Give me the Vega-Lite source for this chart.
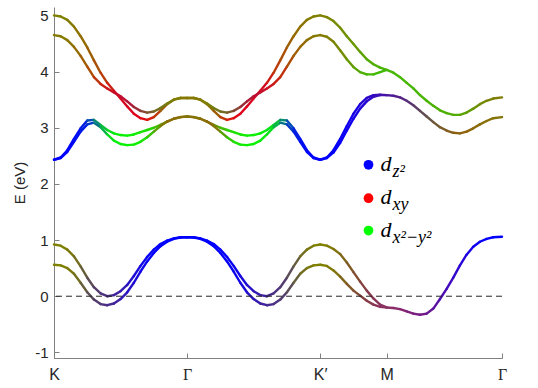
{
 "$schema": "https://vega.github.io/schema/vega-lite/v6.json",
 "width": 448,
 "height": 351,
 "autosize": {"type": "none"},
 "padding": {"left": 54, "top": 7, "right": 36, "bottom": 30},
 "background": "white",
 "config": {"view": {"stroke": null}, "font": "Liberation Sans"},
 "datasets": {
  "bands": [
{"b":"L1","k":0,"E":0.56,"r":0.5,"g":0.5,"u":0},
{"b":"L1","k":0.05,"E":0.55,"r":0.5,"g":0.5,"u":0},
{"b":"L1","k":0.1,"E":0.5,"r":0.48,"g":0.47,"u":0.05},
{"b":"L1","k":0.15,"E":0.4,"r":0.45,"g":0.43,"u":0.12},
{"b":"L1","k":0.2,"E":0.24,"r":0.4,"g":0.37,"u":0.23},
{"b":"L1","k":0.25,"E":0.07,"r":0.36,"g":0.3,"u":0.34},
{"b":"L1","k":0.3,"E":-0.06,"r":0.33,"g":0.24,"u":0.43},
{"b":"L1","k":0.35,"E":-0.14,"r":0.3,"g":0.2,"u":0.5},
{"b":"L1","k":0.4,"E":-0.16,"r":0.28,"g":0.17,"u":0.55},
{"b":"L1","k":0.45,"E":-0.13,"r":0.25,"g":0.13,"u":0.62},
{"b":"L1","k":0.5,"E":-0.05,"r":0.2,"g":0.1,"u":0.7},
{"b":"L1","k":0.55,"E":0.07,"r":0.15,"g":0.07,"u":0.78},
{"b":"L1","k":0.6,"E":0.24,"r":0.1,"g":0.04,"u":0.86},
{"b":"L1","k":0.65,"E":0.44,"r":0.06,"g":0.02,"u":0.92},
{"b":"L1","k":0.7,"E":0.62,"r":0.03,"g":0.01,"u":0.96},
{"b":"L1","k":0.75,"E":0.77,"r":0.02,"g":0,"u":0.98},
{"b":"L1","k":0.8,"E":0.89,"r":0.01,"g":0,"u":0.99},
{"b":"L1","k":0.85,"E":0.97,"r":0,"g":0,"u":1},
{"b":"L1","k":0.9,"E":1.02,"r":0,"g":0,"u":1},
{"b":"L1","k":0.95,"E":1.045,"r":0,"g":0,"u":1},
{"b":"L1","k":1,"E":1.05,"r":0,"g":0,"u":1},
{"b":"L1","k":1.05,"E":1.045,"r":0,"g":0,"u":1},
{"b":"L1","k":1.1,"E":1.02,"r":0,"g":0,"u":1},
{"b":"L1","k":1.15,"E":0.97,"r":0,"g":0,"u":1},
{"b":"L1","k":1.2,"E":0.89,"r":0.01,"g":0,"u":0.99},
{"b":"L1","k":1.25,"E":0.77,"r":0.02,"g":0,"u":0.98},
{"b":"L1","k":1.3,"E":0.62,"r":0.03,"g":0.01,"u":0.96},
{"b":"L1","k":1.35,"E":0.44,"r":0.06,"g":0.02,"u":0.92},
{"b":"L1","k":1.4,"E":0.24,"r":0.1,"g":0.04,"u":0.86},
{"b":"L1","k":1.45,"E":0.07,"r":0.15,"g":0.07,"u":0.78},
{"b":"L1","k":1.5,"E":-0.05,"r":0.2,"g":0.1,"u":0.7},
{"b":"L1","k":1.55,"E":-0.13,"r":0.25,"g":0.13,"u":0.62},
{"b":"L1","k":1.6,"E":-0.16,"r":0.28,"g":0.17,"u":0.55},
{"b":"L1","k":1.65,"E":-0.14,"r":0.3,"g":0.2,"u":0.5},
{"b":"L1","k":1.7,"E":-0.06,"r":0.33,"g":0.24,"u":0.43},
{"b":"L1","k":1.75,"E":0.07,"r":0.36,"g":0.3,"u":0.34},
{"b":"L1","k":1.8,"E":0.24,"r":0.4,"g":0.37,"u":0.23},
{"b":"L1","k":1.85,"E":0.4,"r":0.45,"g":0.43,"u":0.12},
{"b":"L1","k":1.9,"E":0.5,"r":0.48,"g":0.47,"u":0.05},
{"b":"L1","k":1.95,"E":0.55,"r":0.5,"g":0.5,"u":0},
{"b":"L1","k":2,"E":0.56,"r":0.5,"g":0.5,"u":0},
{"b":"L1","k":2.05,"E":0.54,"r":0.5,"g":0.48,"u":0.02},
{"b":"L1","k":2.1,"E":0.46,"r":0.5,"g":0.45,"u":0.05},
{"b":"L1","k":2.15,"E":0.35,"r":0.5,"g":0.4,"u":0.1},
{"b":"L1","k":2.2,"E":0.22,"r":0.5,"g":0.35,"u":0.15},
{"b":"L1","k":2.25,"E":0.1,"r":0.5,"g":0.3,"u":0.2},
{"b":"L1","k":2.3,"E":0.01,"r":0.52,"g":0.25,"u":0.25},
{"b":"L1","k":2.35,"E":-0.08,"r":0.53,"g":0.23,"u":0.3},
{"b":"L1","k":2.4,"E":-0.15,"r":0.54,"g":0.21,"u":0.35},
{"b":"L1","k":2.45,"E":-0.19,"r":0.55,"g":0.2,"u":0.38},
{"b":"L1","k":2.5,"E":-0.2,"r":0.55,"g":0.19,"u":0.4},
{"b":"L1","k":2.55,"E":-0.21,"r":0.54,"g":0.17,"u":0.42},
{"b":"L1","k":2.6,"E":-0.23,"r":0.52,"g":0.15,"u":0.45},
{"b":"L1","k":2.65,"E":-0.27,"r":0.5,"g":0.13,"u":0.48},
{"b":"L1","k":2.7,"E":-0.31,"r":0.48,"g":0.12,"u":0.5},
{"b":"L1","k":2.75,"E":-0.33,"r":0.45,"g":0.1,"u":0.53},
{"b":"L1","k":2.8,"E":-0.31,"r":0.4,"g":0.09,"u":0.58},
{"b":"L1","k":2.85,"E":-0.22,"r":0.35,"g":0.07,"u":0.64},
{"b":"L1","k":2.9,"E":-0.05,"r":0.3,"g":0.05,"u":0.7},
{"b":"L1","k":2.95,"E":0.13,"r":0.25,"g":0.04,"u":0.75},
{"b":"L1","k":3,"E":0.33,"r":0.2,"g":0.03,"u":0.8},
{"b":"L1","k":3.05,"E":0.55,"r":0.15,"g":0.02,"u":0.85},
{"b":"L1","k":3.1,"E":0.74,"r":0.1,"g":0.01,"u":0.9},
{"b":"L1","k":3.15,"E":0.88,"r":0.06,"g":0,"u":0.94},
{"b":"L1","k":3.2,"E":0.97,"r":0.03,"g":0,"u":0.97},
{"b":"L1","k":3.25,"E":1.02,"r":0.01,"g":0,"u":0.99},
{"b":"L1","k":3.3,"E":1.05,"r":0,"g":0,"u":1},
{"b":"L1","k":3.366,"E":1.06,"r":0,"g":0,"u":1},

{"b":"L2","k":0,"E":0.92,"r":0.5,"g":0.5,"u":0},
{"b":"L2","k":0.05,"E":0.9,"r":0.5,"g":0.5,"u":0},
{"b":"L2","k":0.1,"E":0.83,"r":0.48,"g":0.47,"u":0.05},
{"b":"L2","k":0.15,"E":0.71,"r":0.45,"g":0.43,"u":0.12},
{"b":"L2","k":0.2,"E":0.53,"r":0.4,"g":0.37,"u":0.23},
{"b":"L2","k":0.25,"E":0.33,"r":0.36,"g":0.3,"u":0.34},
{"b":"L2","k":0.3,"E":0.16,"r":0.33,"g":0.24,"u":0.43},
{"b":"L2","k":0.35,"E":0.05,"r":0.3,"g":0.2,"u":0.5},
{"b":"L2","k":0.4,"E":0,"r":0.28,"g":0.17,"u":0.55},
{"b":"L2","k":0.45,"E":0.02,"r":0.25,"g":0.13,"u":0.62},
{"b":"L2","k":0.5,"E":0.09,"r":0.2,"g":0.1,"u":0.7},
{"b":"L2","k":0.55,"E":0.2,"r":0.15,"g":0.07,"u":0.78},
{"b":"L2","k":0.6,"E":0.36,"r":0.1,"g":0.04,"u":0.86},
{"b":"L2","k":0.65,"E":0.54,"r":0.06,"g":0.02,"u":0.92},
{"b":"L2","k":0.7,"E":0.7,"r":0.03,"g":0.01,"u":0.96},
{"b":"L2","k":0.75,"E":0.83,"r":0.02,"g":0,"u":0.98},
{"b":"L2","k":0.8,"E":0.93,"r":0.01,"g":0,"u":0.99},
{"b":"L2","k":0.85,"E":0.99,"r":0,"g":0,"u":1},
{"b":"L2","k":0.9,"E":1.03,"r":0,"g":0,"u":1},
{"b":"L2","k":0.95,"E":1.05,"r":0,"g":0,"u":1},
{"b":"L2","k":1,"E":1.05,"r":0,"g":0,"u":1},
{"b":"L2","k":1.05,"E":1.05,"r":0,"g":0,"u":1},
{"b":"L2","k":1.1,"E":1.03,"r":0,"g":0,"u":1},
{"b":"L2","k":1.15,"E":0.99,"r":0,"g":0,"u":1},
{"b":"L2","k":1.2,"E":0.93,"r":0.01,"g":0,"u":0.99},
{"b":"L2","k":1.25,"E":0.83,"r":0.02,"g":0,"u":0.98},
{"b":"L2","k":1.3,"E":0.7,"r":0.03,"g":0.01,"u":0.96},
{"b":"L2","k":1.35,"E":0.54,"r":0.06,"g":0.02,"u":0.92},
{"b":"L2","k":1.4,"E":0.36,"r":0.1,"g":0.04,"u":0.86},
{"b":"L2","k":1.45,"E":0.2,"r":0.15,"g":0.07,"u":0.78},
{"b":"L2","k":1.5,"E":0.09,"r":0.2,"g":0.1,"u":0.7},
{"b":"L2","k":1.55,"E":0.02,"r":0.25,"g":0.13,"u":0.62},
{"b":"L2","k":1.6,"E":0,"r":0.28,"g":0.17,"u":0.55},
{"b":"L2","k":1.65,"E":0.05,"r":0.3,"g":0.2,"u":0.5},
{"b":"L2","k":1.7,"E":0.16,"r":0.33,"g":0.24,"u":0.43},
{"b":"L2","k":1.75,"E":0.33,"r":0.36,"g":0.3,"u":0.34},
{"b":"L2","k":1.8,"E":0.53,"r":0.4,"g":0.37,"u":0.23},
{"b":"L2","k":1.85,"E":0.71,"r":0.45,"g":0.43,"u":0.12},
{"b":"L2","k":1.9,"E":0.83,"r":0.48,"g":0.47,"u":0.05},
{"b":"L2","k":1.95,"E":0.9,"r":0.5,"g":0.5,"u":0},
{"b":"L2","k":2,"E":0.92,"r":0.5,"g":0.5,"u":0},
{"b":"L2","k":2.05,"E":0.9,"r":0.5,"g":0.48,"u":0.02},
{"b":"L2","k":2.1,"E":0.84,"r":0.5,"g":0.45,"u":0.05},
{"b":"L2","k":2.15,"E":0.75,"r":0.5,"g":0.4,"u":0.1},
{"b":"L2","k":2.2,"E":0.6,"r":0.5,"g":0.35,"u":0.15},
{"b":"L2","k":2.25,"E":0.43,"r":0.5,"g":0.3,"u":0.2},
{"b":"L2","k":2.3,"E":0.26,"r":0.52,"g":0.25,"u":0.25},
{"b":"L2","k":2.35,"E":0.1,"r":0.53,"g":0.23,"u":0.3},
{"b":"L2","k":2.4,"E":-0.04,"r":0.54,"g":0.21,"u":0.35},
{"b":"L2","k":2.45,"E":-0.15,"r":0.55,"g":0.2,"u":0.38},
{"b":"L2","k":2.5,"E":-0.2,"r":0.55,"g":0.19,"u":0.4},

{"b":"M2","k":0,"E":2.43,"r":0,"g":0,"u":1},
{"b":"M2","k":0.05,"E":2.47,"r":0,"g":0,"u":1},
{"b":"M2","k":0.1,"E":2.6,"r":0,"g":0.02,"u":0.98},
{"b":"M2","k":0.15,"E":2.8,"r":0,"g":0.05,"u":0.95},
{"b":"M2","k":0.2,"E":2.99,"r":0,"g":0.12,"u":0.88},
{"b":"M2","k":0.25,"E":3.13,"r":0,"g":0.3,"u":0.7},
{"b":"M2","k":0.3,"E":3.14,"r":0.02,"g":0.55,"u":0.43},
{"b":"M2","k":0.35,"E":3.05,"r":0.03,"g":0.75,"u":0.22},
{"b":"M2","k":0.4,"E":2.96,"r":0.03,"g":0.88,"u":0.09},
{"b":"M2","k":0.45,"E":2.9,"r":0.03,"g":0.93,"u":0.04},
{"b":"M2","k":0.5,"E":2.87,"r":0.04,"g":0.94,"u":0.02},
{"b":"M2","k":0.55,"E":2.86,"r":0.05,"g":0.94,"u":0.01},
{"b":"M2","k":0.6,"E":2.88,"r":0.07,"g":0.92,"u":0.01},
{"b":"M2","k":0.65,"E":2.92,"r":0.1,"g":0.89,"u":0.01},
{"b":"M2","k":0.7,"E":2.96,"r":0.15,"g":0.84,"u":0.01},
{"b":"M2","k":0.75,"E":3.0,"r":0.25,"g":0.74,"u":0.01},
{"b":"M2","k":0.8,"E":3.05,"r":0.4,"g":0.58,"u":0.02},
{"b":"M2","k":0.85,"E":3.11,"r":0.5,"g":0.47,"u":0.03},
{"b":"M2","k":0.9,"E":3.16,"r":0.52,"g":0.45,"u":0.03},
{"b":"M2","k":0.95,"E":3.19,"r":0.52,"g":0.45,"u":0.03},
{"b":"M2","k":1,"E":3.2,"r":0.52,"g":0.45,"u":0.03},
{"b":"M2","k":1.05,"E":3.19,"r":0.52,"g":0.45,"u":0.03},
{"b":"M2","k":1.1,"E":3.16,"r":0.52,"g":0.45,"u":0.03},
{"b":"M2","k":1.15,"E":3.11,"r":0.5,"g":0.47,"u":0.03},
{"b":"M2","k":1.2,"E":3.05,"r":0.4,"g":0.58,"u":0.02},
{"b":"M2","k":1.25,"E":3.0,"r":0.25,"g":0.74,"u":0.01},
{"b":"M2","k":1.3,"E":2.96,"r":0.15,"g":0.84,"u":0.01},
{"b":"M2","k":1.35,"E":2.92,"r":0.1,"g":0.89,"u":0.01},
{"b":"M2","k":1.4,"E":2.88,"r":0.07,"g":0.92,"u":0.01},
{"b":"M2","k":1.45,"E":2.86,"r":0.05,"g":0.94,"u":0.01},
{"b":"M2","k":1.5,"E":2.87,"r":0.04,"g":0.94,"u":0.02},
{"b":"M2","k":1.55,"E":2.9,"r":0.03,"g":0.93,"u":0.04},
{"b":"M2","k":1.6,"E":2.96,"r":0.03,"g":0.88,"u":0.09},
{"b":"M2","k":1.65,"E":3.05,"r":0.03,"g":0.75,"u":0.22},
{"b":"M2","k":1.7,"E":3.14,"r":0.02,"g":0.55,"u":0.43},
{"b":"M2","k":1.75,"E":3.13,"r":0,"g":0.3,"u":0.7},
{"b":"M2","k":1.8,"E":2.99,"r":0,"g":0.12,"u":0.88},
{"b":"M2","k":1.85,"E":2.8,"r":0,"g":0.05,"u":0.95},
{"b":"M2","k":1.9,"E":2.6,"r":0,"g":0.02,"u":0.98},
{"b":"M2","k":1.95,"E":2.47,"r":0,"g":0,"u":1},
{"b":"M2","k":2,"E":2.43,"r":0,"g":0,"u":1},
{"b":"M2","k":2.05,"E":2.47,"r":0,"g":0,"u":1},
{"b":"M2","k":2.1,"E":2.6,"r":0.02,"g":0,"u":0.98},
{"b":"M2","k":2.15,"E":2.8,"r":0.04,"g":0,"u":0.96},
{"b":"M2","k":2.2,"E":3.03,"r":0.07,"g":0,"u":0.93},
{"b":"M2","k":2.25,"E":3.25,"r":0.1,"g":0.01,"u":0.89},
{"b":"M2","k":2.3,"E":3.42,"r":0.14,"g":0.02,"u":0.84},
{"b":"M2","k":2.35,"E":3.53,"r":0.18,"g":0.03,"u":0.79},
{"b":"M2","k":2.4,"E":3.58,"r":0.22,"g":0.05,"u":0.73},
{"b":"M2","k":2.45,"E":3.59,"r":0.26,"g":0.07,"u":0.67},
{"b":"M2","k":2.5,"E":3.58,"r":0.3,"g":0.09,"u":0.61},

{"b":"M1","k":0,"E":2.43,"r":0,"g":0,"u":1},
{"b":"M1","k":0.05,"E":2.46,"r":0,"g":0,"u":1},
{"b":"M1","k":0.1,"E":2.57,"r":0,"g":0.02,"u":0.98},
{"b":"M1","k":0.15,"E":2.75,"r":0,"g":0.05,"u":0.95},
{"b":"M1","k":0.2,"E":2.93,"r":0,"g":0.1,"u":0.9},
{"b":"M1","k":0.25,"E":3.06,"r":0,"g":0.22,"u":0.78},
{"b":"M1","k":0.3,"E":3.09,"r":0.01,"g":0.45,"u":0.54},
{"b":"M1","k":0.35,"E":3.01,"r":0.02,"g":0.7,"u":0.28},
{"b":"M1","k":0.4,"E":2.88,"r":0.03,"g":0.87,"u":0.1},
{"b":"M1","k":0.45,"E":2.77,"r":0.03,"g":0.93,"u":0.04},
{"b":"M1","k":0.5,"E":2.71,"r":0.04,"g":0.94,"u":0.02},
{"b":"M1","k":0.55,"E":2.69,"r":0.05,"g":0.94,"u":0.01},
{"b":"M1","k":0.6,"E":2.7,"r":0.06,"g":0.93,"u":0.01},
{"b":"M1","k":0.65,"E":2.75,"r":0.1,"g":0.89,"u":0.01},
{"b":"M1","k":0.7,"E":2.83,"r":0.2,"g":0.78,"u":0.02},
{"b":"M1","k":0.75,"E":2.93,"r":0.35,"g":0.63,"u":0.02},
{"b":"M1","k":0.8,"E":3.03,"r":0.5,"g":0.48,"u":0.02},
{"b":"M1","k":0.85,"E":3.11,"r":0.55,"g":0.42,"u":0.03},
{"b":"M1","k":0.9,"E":3.16,"r":0.54,"g":0.43,"u":0.03},
{"b":"M1","k":0.95,"E":3.19,"r":0.52,"g":0.45,"u":0.03},
{"b":"M1","k":1,"E":3.2,"r":0.52,"g":0.45,"u":0.03},
{"b":"M1","k":1.05,"E":3.19,"r":0.52,"g":0.45,"u":0.03},
{"b":"M1","k":1.1,"E":3.16,"r":0.54,"g":0.43,"u":0.03},
{"b":"M1","k":1.15,"E":3.11,"r":0.55,"g":0.42,"u":0.03},
{"b":"M1","k":1.2,"E":3.03,"r":0.5,"g":0.48,"u":0.02},
{"b":"M1","k":1.25,"E":2.93,"r":0.35,"g":0.63,"u":0.02},
{"b":"M1","k":1.3,"E":2.83,"r":0.2,"g":0.78,"u":0.02},
{"b":"M1","k":1.35,"E":2.75,"r":0.1,"g":0.89,"u":0.01},
{"b":"M1","k":1.4,"E":2.7,"r":0.06,"g":0.93,"u":0.01},
{"b":"M1","k":1.45,"E":2.69,"r":0.05,"g":0.94,"u":0.01},
{"b":"M1","k":1.5,"E":2.71,"r":0.04,"g":0.94,"u":0.02},
{"b":"M1","k":1.55,"E":2.77,"r":0.03,"g":0.93,"u":0.04},
{"b":"M1","k":1.6,"E":2.88,"r":0.03,"g":0.87,"u":0.1},
{"b":"M1","k":1.65,"E":3.01,"r":0.02,"g":0.7,"u":0.28},
{"b":"M1","k":1.7,"E":3.09,"r":0.01,"g":0.45,"u":0.54},
{"b":"M1","k":1.75,"E":3.06,"r":0,"g":0.22,"u":0.78},
{"b":"M1","k":1.8,"E":2.93,"r":0,"g":0.1,"u":0.9},
{"b":"M1","k":1.85,"E":2.75,"r":0,"g":0.05,"u":0.95},
{"b":"M1","k":1.9,"E":2.57,"r":0,"g":0.02,"u":0.98},
{"b":"M1","k":1.95,"E":2.46,"r":0,"g":0,"u":1},
{"b":"M1","k":2,"E":2.43,"r":0,"g":0,"u":1},
{"b":"M1","k":2.05,"E":2.46,"r":0,"g":0,"u":1},
{"b":"M1","k":2.1,"E":2.56,"r":0.02,"g":0,"u":0.98},
{"b":"M1","k":2.15,"E":2.73,"r":0.04,"g":0,"u":0.96},
{"b":"M1","k":2.2,"E":2.95,"r":0.07,"g":0,"u":0.93},
{"b":"M1","k":2.25,"E":3.16,"r":0.1,"g":0.01,"u":0.89},
{"b":"M1","k":2.3,"E":3.34,"r":0.14,"g":0.02,"u":0.84},
{"b":"M1","k":2.35,"E":3.47,"r":0.18,"g":0.03,"u":0.79},
{"b":"M1","k":2.4,"E":3.55,"r":0.22,"g":0.05,"u":0.73},
{"b":"M1","k":2.45,"E":3.58,"r":0.26,"g":0.07,"u":0.67},
{"b":"M1","k":2.5,"E":3.58,"r":0.3,"g":0.09,"u":0.61},
{"b":"M1","k":2.55,"E":3.57,"r":0.32,"g":0.12,"u":0.56},
{"b":"M1","k":2.6,"E":3.54,"r":0.34,"g":0.15,"u":0.51},
{"b":"M1","k":2.65,"E":3.48,"r":0.35,"g":0.19,"u":0.46},
{"b":"M1","k":2.7,"E":3.4,"r":0.36,"g":0.24,"u":0.4},
{"b":"M1","k":2.75,"E":3.3,"r":0.38,"g":0.29,"u":0.33},
{"b":"M1","k":2.8,"E":3.2,"r":0.4,"g":0.33,"u":0.27},
{"b":"M1","k":2.85,"E":3.1,"r":0.44,"g":0.35,"u":0.21},
{"b":"M1","k":2.9,"E":3.01,"r":0.48,"g":0.36,"u":0.16},
{"b":"M1","k":2.95,"E":2.95,"r":0.52,"g":0.37,"u":0.11},
{"b":"M1","k":3,"E":2.91,"r":0.55,"g":0.38,"u":0.07},
{"b":"M1","k":3.05,"E":2.9,"r":0.56,"g":0.39,"u":0.05},
{"b":"M1","k":3.1,"E":2.93,"r":0.56,"g":0.4,"u":0.04},
{"b":"M1","k":3.15,"E":2.99,"r":0.55,"g":0.42,"u":0.03},
{"b":"M1","k":3.2,"E":3.06,"r":0.54,"g":0.43,"u":0.03},
{"b":"M1","k":3.25,"E":3.12,"r":0.53,"g":0.44,"u":0.03},
{"b":"M1","k":3.3,"E":3.17,"r":0.52,"g":0.45,"u":0.03},
{"b":"M1","k":3.366,"E":3.19,"r":0.52,"g":0.45,"u":0.03},

{"b":"T1","k":0,"E":5.0,"r":0.5,"g":0.5,"u":0},
{"b":"T1","k":0.05,"E":4.98,"r":0.5,"g":0.5,"u":0},
{"b":"T1","k":0.1,"E":4.92,"r":0.52,"g":0.48,"u":0},
{"b":"T1","k":0.15,"E":4.8,"r":0.55,"g":0.45,"u":0},
{"b":"T1","k":0.2,"E":4.63,"r":0.58,"g":0.42,"u":0},
{"b":"T1","k":0.25,"E":4.43,"r":0.62,"g":0.37,"u":0.01},
{"b":"T1","k":0.3,"E":4.2,"r":0.67,"g":0.31,"u":0.02},
{"b":"T1","k":0.35,"E":3.98,"r":0.73,"g":0.23,"u":0.04},
{"b":"T1","k":0.4,"E":3.8,"r":0.8,"g":0.12,"u":0.08},
{"b":"T1","k":0.45,"E":3.66,"r":0.82,"g":0.05,"u":0.13},
{"b":"T1","k":0.5,"E":3.52,"r":0.84,"g":0.03,"u":0.13},
{"b":"T1","k":0.55,"E":3.38,"r":0.86,"g":0.02,"u":0.12},
{"b":"T1","k":0.6,"E":3.25,"r":0.88,"g":0.02,"u":0.1},
{"b":"T1","k":0.65,"E":3.17,"r":0.88,"g":0.04,"u":0.08},
{"b":"T1","k":0.7,"E":3.14,"r":0.85,"g":0.1,"u":0.05},
{"b":"T1","k":0.75,"E":3.19,"r":0.75,"g":0.22,"u":0.03},
{"b":"T1","k":0.8,"E":3.3,"r":0.62,"g":0.36,"u":0.02},
{"b":"T1","k":0.85,"E":3.42,"r":0.55,"g":0.44,"u":0.01},
{"b":"T1","k":0.9,"E":3.5,"r":0.52,"g":0.47,"u":0.01},
{"b":"T1","k":0.95,"E":3.53,"r":0.52,"g":0.47,"u":0.01},
{"b":"T1","k":1,"E":3.53,"r":0.52,"g":0.47,"u":0.01},
{"b":"T1","k":1.05,"E":3.53,"r":0.52,"g":0.47,"u":0.01},
{"b":"T1","k":1.1,"E":3.5,"r":0.52,"g":0.47,"u":0.01},
{"b":"T1","k":1.15,"E":3.42,"r":0.55,"g":0.44,"u":0.01},
{"b":"T1","k":1.2,"E":3.3,"r":0.62,"g":0.36,"u":0.02},
{"b":"T1","k":1.25,"E":3.19,"r":0.75,"g":0.22,"u":0.03},
{"b":"T1","k":1.3,"E":3.14,"r":0.85,"g":0.1,"u":0.05},
{"b":"T1","k":1.35,"E":3.17,"r":0.88,"g":0.04,"u":0.08},
{"b":"T1","k":1.4,"E":3.25,"r":0.88,"g":0.02,"u":0.1},
{"b":"T1","k":1.45,"E":3.38,"r":0.86,"g":0.02,"u":0.12},
{"b":"T1","k":1.5,"E":3.52,"r":0.84,"g":0.03,"u":0.13},
{"b":"T1","k":1.55,"E":3.66,"r":0.82,"g":0.05,"u":0.13},
{"b":"T1","k":1.6,"E":3.8,"r":0.8,"g":0.12,"u":0.08},
{"b":"T1","k":1.65,"E":3.98,"r":0.73,"g":0.23,"u":0.04},
{"b":"T1","k":1.7,"E":4.2,"r":0.67,"g":0.31,"u":0.02},
{"b":"T1","k":1.75,"E":4.43,"r":0.62,"g":0.37,"u":0.01},
{"b":"T1","k":1.8,"E":4.63,"r":0.58,"g":0.42,"u":0},
{"b":"T1","k":1.85,"E":4.8,"r":0.55,"g":0.45,"u":0},
{"b":"T1","k":1.9,"E":4.92,"r":0.52,"g":0.48,"u":0},
{"b":"T1","k":1.95,"E":4.98,"r":0.5,"g":0.5,"u":0},
{"b":"T1","k":2,"E":5.0,"r":0.5,"g":0.5,"u":0},
{"b":"T1","k":2.05,"E":4.97,"r":0.48,"g":0.52,"u":0},
{"b":"T1","k":2.1,"E":4.9,"r":0.46,"g":0.54,"u":0},
{"b":"T1","k":2.15,"E":4.78,"r":0.44,"g":0.56,"u":0},
{"b":"T1","k":2.2,"E":4.63,"r":0.42,"g":0.58,"u":0},
{"b":"T1","k":2.25,"E":4.49,"r":0.4,"g":0.6,"u":0},
{"b":"T1","k":2.3,"E":4.35,"r":0.36,"g":0.63,"u":0.01},
{"b":"T1","k":2.35,"E":4.22,"r":0.32,"g":0.67,"u":0.01},
{"b":"T1","k":2.4,"E":4.13,"r":0.3,"g":0.69,"u":0.01},
{"b":"T1","k":2.45,"E":4.07,"r":0.28,"g":0.71,"u":0.01},
{"b":"T1","k":2.5,"E":4.03,"r":0.27,"g":0.72,"u":0.01},
{"b":"T1","k":2.55,"E":3.98,"r":0.27,"g":0.72,"u":0.01},
{"b":"T1","k":2.6,"E":3.9,"r":0.27,"g":0.72,"u":0.01},
{"b":"T1","k":2.65,"E":3.8,"r":0.28,"g":0.71,"u":0.01},
{"b":"T1","k":2.7,"E":3.7,"r":0.28,"g":0.71,"u":0.01},
{"b":"T1","k":2.75,"E":3.58,"r":0.29,"g":0.7,"u":0.01},
{"b":"T1","k":2.8,"E":3.48,"r":0.29,"g":0.7,"u":0.01},
{"b":"T1","k":2.85,"E":3.39,"r":0.3,"g":0.69,"u":0.01},
{"b":"T1","k":2.9,"E":3.31,"r":0.3,"g":0.69,"u":0.01},
{"b":"T1","k":2.95,"E":3.26,"r":0.31,"g":0.68,"u":0.01},
{"b":"T1","k":3,"E":3.23,"r":0.32,"g":0.67,"u":0.01},
{"b":"T1","k":3.05,"E":3.23,"r":0.35,"g":0.64,"u":0.01},
{"b":"T1","k":3.1,"E":3.27,"r":0.38,"g":0.61,"u":0.01},
{"b":"T1","k":3.15,"E":3.34,"r":0.42,"g":0.57,"u":0.01},
{"b":"T1","k":3.2,"E":3.42,"r":0.45,"g":0.54,"u":0.01},
{"b":"T1","k":3.25,"E":3.48,"r":0.48,"g":0.51,"u":0.01},
{"b":"T1","k":3.3,"E":3.52,"r":0.5,"g":0.49,"u":0.01},
{"b":"T1","k":3.366,"E":3.54,"r":0.52,"g":0.47,"u":0.01},

{"b":"T2","k":0,"E":4.65,"r":0.52,"g":0.48,"u":0},
{"b":"T2","k":0.05,"E":4.63,"r":0.52,"g":0.48,"u":0},
{"b":"T2","k":0.1,"E":4.56,"r":0.55,"g":0.45,"u":0},
{"b":"T2","k":0.15,"E":4.44,"r":0.58,"g":0.42,"u":0},
{"b":"T2","k":0.2,"E":4.28,"r":0.62,"g":0.37,"u":0.01},
{"b":"T2","k":0.25,"E":4.09,"r":0.68,"g":0.3,"u":0.02},
{"b":"T2","k":0.3,"E":3.9,"r":0.75,"g":0.2,"u":0.05},
{"b":"T2","k":0.35,"E":3.78,"r":0.8,"g":0.12,"u":0.08},
{"b":"T2","k":0.4,"E":3.7,"r":0.8,"g":0.08,"u":0.12},
{"b":"T2","k":0.45,"E":3.63,"r":0.78,"g":0.06,"u":0.16},
{"b":"T2","k":0.5,"E":3.56,"r":0.74,"g":0.06,"u":0.2},
{"b":"T2","k":0.55,"E":3.47,"r":0.68,"g":0.1,"u":0.22},
{"b":"T2","k":0.6,"E":3.37,"r":0.6,"g":0.18,"u":0.22},
{"b":"T2","k":0.65,"E":3.3,"r":0.53,"g":0.27,"u":0.2},
{"b":"T2","k":0.7,"E":3.27,"r":0.48,"g":0.35,"u":0.17},
{"b":"T2","k":0.75,"E":3.29,"r":0.45,"g":0.42,"u":0.13},
{"b":"T2","k":0.8,"E":3.35,"r":0.45,"g":0.47,"u":0.08},
{"b":"T2","k":0.85,"E":3.43,"r":0.48,"g":0.49,"u":0.03},
{"b":"T2","k":0.9,"E":3.5,"r":0.5,"g":0.49,"u":0.01},
{"b":"T2","k":0.95,"E":3.53,"r":0.52,"g":0.47,"u":0.01},
{"b":"T2","k":1,"E":3.53,"r":0.52,"g":0.47,"u":0.01},
{"b":"T2","k":1.05,"E":3.53,"r":0.52,"g":0.47,"u":0.01},
{"b":"T2","k":1.1,"E":3.5,"r":0.5,"g":0.49,"u":0.01},
{"b":"T2","k":1.15,"E":3.43,"r":0.48,"g":0.49,"u":0.03},
{"b":"T2","k":1.2,"E":3.35,"r":0.45,"g":0.47,"u":0.08},
{"b":"T2","k":1.25,"E":3.29,"r":0.45,"g":0.42,"u":0.13},
{"b":"T2","k":1.3,"E":3.27,"r":0.48,"g":0.35,"u":0.17},
{"b":"T2","k":1.35,"E":3.3,"r":0.53,"g":0.27,"u":0.2},
{"b":"T2","k":1.4,"E":3.37,"r":0.6,"g":0.18,"u":0.22},
{"b":"T2","k":1.45,"E":3.47,"r":0.68,"g":0.1,"u":0.22},
{"b":"T2","k":1.5,"E":3.56,"r":0.74,"g":0.06,"u":0.2},
{"b":"T2","k":1.55,"E":3.63,"r":0.78,"g":0.06,"u":0.16},
{"b":"T2","k":1.6,"E":3.7,"r":0.8,"g":0.08,"u":0.12},
{"b":"T2","k":1.65,"E":3.78,"r":0.8,"g":0.12,"u":0.08},
{"b":"T2","k":1.7,"E":3.9,"r":0.75,"g":0.2,"u":0.05},
{"b":"T2","k":1.75,"E":4.09,"r":0.68,"g":0.3,"u":0.02},
{"b":"T2","k":1.8,"E":4.28,"r":0.62,"g":0.37,"u":0.01},
{"b":"T2","k":1.85,"E":4.44,"r":0.58,"g":0.42,"u":0},
{"b":"T2","k":1.9,"E":4.56,"r":0.55,"g":0.45,"u":0},
{"b":"T2","k":1.95,"E":4.63,"r":0.52,"g":0.48,"u":0},
{"b":"T2","k":2,"E":4.65,"r":0.52,"g":0.48,"u":0},
{"b":"T2","k":2.05,"E":4.62,"r":0.5,"g":0.5,"u":0},
{"b":"T2","k":2.1,"E":4.53,"r":0.48,"g":0.52,"u":0},
{"b":"T2","k":2.15,"E":4.38,"r":0.45,"g":0.55,"u":0},
{"b":"T2","k":2.2,"E":4.22,"r":0.4,"g":0.6,"u":0},
{"b":"T2","k":2.25,"E":4.08,"r":0.35,"g":0.64,"u":0.01},
{"b":"T2","k":2.3,"E":3.99,"r":0.3,"g":0.69,"u":0.01},
{"b":"T2","k":2.35,"E":3.95,"r":0.27,"g":0.72,"u":0.01},
{"b":"T2","k":2.4,"E":3.95,"r":0.26,"g":0.73,"u":0.01},
{"b":"T2","k":2.45,"E":3.99,"r":0.26,"g":0.73,"u":0.01},
{"b":"T2","k":2.5,"E":4.03,"r":0.27,"g":0.72,"u":0.01}
  ],
  "legend": [
   {"k":2.363,"E":2.34,"r":0,"g":0,"u":1,"main":"d","sub":"z²"},
   {"k":2.363,"E":1.745,"r":1,"g":0,"u":0,"main":"d","sub":"xy"},
   {"k":2.363,"E":1.17,"r":0,"g":1,"u":0,"main":"d","sub":"x²−y²"}
  ]
 },
 "layer": [
  {
   "data": {"name": "bands"},
   "transform": [
    {"window": [{"op": "lead", "field": "k", "as": "k2"}, {"op": "lead", "field": "E", "as": "E2"}], "groupby": ["b"], "sort": [{"field": "k"}]},
    {"filter": "datum.k2 != null"},
    {"calculate": "'rgb(' + round(255*datum.r) + ',' + round(255*datum.g) + ',' + round(255*datum.u) + ')'", "as": "col"}
   ],
   "mark": {"type": "rule", "strokeWidth": 2.4, "strokeCap": "round"},
   "encoding": {
    "x": {"field": "k", "type": "quantitative", "scale": {"domain": [0, 3.366], "nice": false, "zero": false},
     "axis": {"values": [0, 1, 2, 2.5, 3.366], "title": null, "grid": false, "tickSize": -5, "labelPadding": 13,
      "labelExpr": "datum.value < 0.5 ? 'K' : datum.value < 1.5 ? 'Γ' : datum.value < 2.2 ? 'K′' : datum.value < 3 ? 'M' : 'Γ'",
      "labelFont": {"condition": {"test": "datum.value > 0.5 && (datum.value < 1.5 || datum.value > 3)", "value": "Liberation Serif"}, "value": "Liberation Sans"},
      "labelFontSize": 16, "labelColor": "#262626", "labelFlush": false, "labelOverlap": false, "labelBaseline": "top",
      "domainColor": "#808080", "tickColor": "#808080"}},
    "x2": {"field": "k2"},
    "y": {"field": "E", "type": "quantitative", "scale": {"domain": [-1.1, 5.15], "nice": false, "zero": false},
     "axis": {"values": [-1, 0, 1, 2, 3, 4, 5], "labelExpr": "'' + datum.value", "title": "E (eV)", "grid": false, "tickSize": -5, "labelPadding": 11,
      "labelFontSize": 15, "labelColor": "#262626", "labelFlush": false, "labelOverlap": false,
      "titleFontSize": 15, "titleFontWeight": "normal", "titleColor": "#262626", "titlePadding": 7,
      "domainColor": "#808080", "tickColor": "#808080"}},
    "y2": {"field": "E2"},
    "color": {"field": "col", "type": "nominal", "scale": null, "legend": null}
   }
  },
  {
   "data": {"values": [{}]},
   "mark": {"type": "rule", "strokeDash": [6, 4], "color": "#262626", "strokeWidth": 1},
   "encoding": {
    "y": {"datum": 0, "type": "quantitative"}
   }
  },
  {
   "data": {"name": "legend"},
   "transform": [
    {"calculate": "'rgb(' + round(255*datum.r) + ',' + round(255*datum.g) + ',' + round(255*datum.u) + ')'", "as": "col"}
   ],
   "layer": [
    {
     "mark": {"type": "point", "filled": true, "shape": "circle", "size": 95, "opacity": 1},
     "encoding": {
      "x": {"field": "k", "type": "quantitative"},
      "y": {"field": "E", "type": "quantitative"},
      "color": {"field": "col", "type": "nominal", "scale": null, "legend": null}
     }
    },
    {
     "mark": {"type": "text", "align": "left", "baseline": "alphabetic", "dx": 12, "dy": 6, "font": "Liberation Serif", "fontStyle": "italic", "fontSize": 22, "color": "#000000"},
     "encoding": {
      "x": {"field": "k", "type": "quantitative"},
      "y": {"field": "E", "type": "quantitative"},
      "text": {"field": "main"}
     }
    },
    {
     "mark": {"type": "text", "align": "left", "baseline": "alphabetic", "dx": 24, "dy": 12, "font": "Liberation Serif", "fontStyle": "italic", "fontSize": 18, "color": "#000000"},
     "encoding": {
      "x": {"field": "k", "type": "quantitative"},
      "y": {"field": "E", "type": "quantitative"},
      "text": {"field": "sub"}
     }
    }
   ]
  }
 ]
}
